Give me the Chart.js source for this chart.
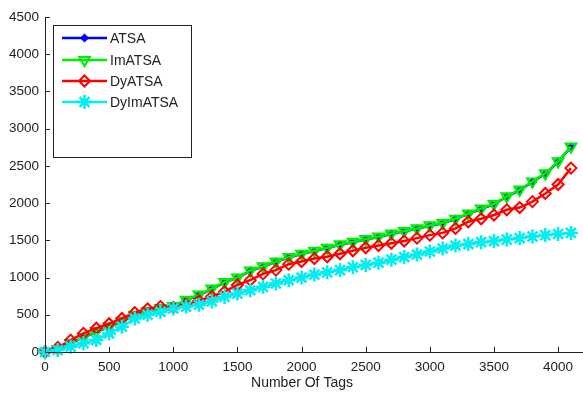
<!DOCTYPE html>
<html>
<head>
<meta charset="utf-8">
<script src="https://cdn.jsdelivr.net/npm/chart.js@4/dist/chart.umd.min.js"></script>
<style>
html,body{margin:0;padding:0;background:#fff;}
#c{display:block;}
</style>
</head>
<body>
<canvas id="c" width="583" height="395"></canvas>
<script>
// ---- data ----
const tags = [0,100,200,300,400,500,600,700,800,900,1000,1100,1200,1300,1400,1500,1600,1700,1800,1900,2000,2100,2200,2300,2400,2500,2600,2700,2800,2900,3000,3100,3200,3300,3400,3500,3600,3700,3800,3900,4000,4100];
const seriesNames = ["ATSA","ImATSA","DyATSA","DyImATSA"];
const atsa = [0,35,115,195,270,335,410,490,545,585,610,695,765,845,935,995,1090,1145,1210,1270,1315,1355,1395,1440,1475,1510,1545,1585,1620,1655,1695,1730,1785,1855,1920,1985,2085,2175,2285,2395,2555,2755];
const imatsa = [0,40,120,200,280,340,420,500,550,590,615,700,770,850,940,1000,1095,1150,1215,1275,1320,1360,1400,1445,1480,1515,1550,1590,1625,1660,1700,1735,1790,1860,1925,1990,2090,2180,2290,2400,2560,2760];
const dyatsa = [0,60,160,250,320,380,450,530,580,610,600,640,690,745,810,900,965,1050,1100,1180,1215,1255,1280,1320,1360,1400,1430,1460,1490,1530,1570,1600,1660,1750,1790,1840,1910,1940,2020,2130,2250,2470];
const dyimatsa = [0,27,72,117,161,250,340,450,500,540,585,610,635,680,740,785,830,875,920,965,1000,1040,1070,1100,1140,1170,1200,1240,1275,1310,1350,1390,1430,1450,1475,1490,1510,1530,1550,1570,1585,1600];
const xTicks = [0,500,1000,1500,2000,2500,3000,3500,4000];
const yTicks = [0,500,1000,1500,2000,2500,3000,3500,4000,4500];
const xTitle = "Number Of Tags";

const FONT = "'Liberation Sans', Arial, sans-serif";
const TXT = "#222222";

function pts(arr){ return tags.map((t,i)=>({x:t,y:arr[i]})); }

const styles = [
  {color:'#0000ff', pointStyle:'rectRot', radius:3.5, bg:'#0000ff', bw:1.5, rot:0, order:4},
  {color:'#00ee00', pointStyle:'triangle', radius:6, bg:'rgba(0,0,0,0)', bw:2.2, rot:180, order:3},
  {color:'#ff0000', pointStyle:'rectRot', radius:5.5, bg:'rgba(0,0,0,0)', bw:2, rot:0, order:2},
  {color:'#00eeee', pointStyle:'star', radius:7, bg:'#00eeee', bw:2.5, rot:0, order:1}
];
const values = [atsa, imatsa, dyatsa, dyimatsa];

const datasets = values.map((v,i)=>({
  label: seriesNames[i],
  data: pts(v),
  borderColor: styles[i].color,
  backgroundColor: styles[i].bg,
  borderWidth: 2.5,
  pointStyle: styles[i].pointStyle,
  pointRadius: styles[i].radius,
  pointBorderWidth: styles[i].bw,
  pointBorderColor: styles[i].color,
  pointBackgroundColor: styles[i].bg,
  pointRotation: styles[i].rot,
  tension: 0,
  order: styles[i].order,
  clip: false
}));

const axesPlugin = {
  id:'axesPlugin',
  afterDatasetsDraw(chart){
    const ctx = chart.ctx, a = chart.chartArea;
    const xs = chart.scales.x, ys = chart.scales.y;
    ctx.save();
    ctx.strokeStyle = '#222';
    ctx.lineWidth = 1;
    ctx.beginPath();
    ctx.moveTo(a.left+0.5, ys.getPixelForValue(4500));
    ctx.lineTo(a.left+0.5, a.bottom+0.5);
    ctx.lineTo(chart.width, a.bottom+0.5);
    ctx.stroke();
    ctx.beginPath();
    yTicks.forEach(v=>{
      const y = Math.round(ys.getPixelForValue(v))+0.5;
      ctx.moveTo(a.left, y); ctx.lineTo(a.left+5, y);
    });
    xTicks.forEach(v=>{
      const x = Math.round(xs.getPixelForValue(v))+0.5;
      ctx.moveTo(x, a.bottom); ctx.lineTo(x, a.bottom-5);
    });
    ctx.stroke();
    // x title
    ctx.fillStyle = TXT;
    ctx.font = "14px " + FONT;
    ctx.textAlign = 'center';
    ctx.textBaseline = 'middle';
    ctx.fillText(xTitle, 302, 383);
    ctx.restore();
  },
  afterDraw(chart){
    // legend box
    const ctx = chart.ctx;
    ctx.save();
    ctx.fillStyle = '#fff';
    ctx.fillRect(53.5, 25.5, 138, 132);
    ctx.strokeStyle = '#222';
    ctx.lineWidth = 1;
    ctx.strokeRect(53.5, 25.5, 138, 132);
    const rowsY = [38, 60, 81, 102];
    chart.data.datasets.forEach((ds,i)=>{
      const y = rowsY[i];
      ctx.strokeStyle = ds.borderColor;
      ctx.lineWidth = 2.5;
      ctx.beginPath();
      ctx.moveTo(62, y); ctx.lineTo(107, y);
      ctx.stroke();
      const opts = {pointStyle: ds.pointStyle, radius: ds.pointRadius, rotation: ds.pointRotation, borderWidth: ds.pointBorderWidth};
      ctx.fillStyle = ds.pointBackgroundColor;
      ctx.strokeStyle = ds.pointBorderColor;
      ctx.lineWidth = ds.pointBorderWidth;
      if (Chart.helpers && Chart.helpers.drawPoint) {
        Chart.helpers.drawPoint(ctx, opts, 84.5, y);
      }
      ctx.fillStyle = TXT;
      ctx.font = "14px " + FONT;
      ctx.textAlign = 'left';
      ctx.textBaseline = 'middle';
      ctx.fillText(ds.label, 110, y+1);
    });
    ctx.restore();
  }
};

new Chart(document.getElementById('c'), {
  type: 'line',
  data: { datasets },
  options: {
    responsive: false,
    animation: false,
    layout: { padding: { top: 17, right: 0, left: 0, bottom: 0 } },
    plugins: { legend: { display: false }, tooltip: { enabled: false } },
    scales: {
      x: {
        type: 'linear',
        min: 0, max: 4120,
        grid: { display: false, drawTicks: false },
        border: { display: false },
        ticks: { stepSize: 500, color: TXT, font: { family: FONT, size: 13.5 }, padding: 7, maxRotation: 0, autoSkip: false, callback: v => String(v) },
        afterBuildTicks(s){ s.ticks = xTicks.map(v=>({value:v})); },
        afterFit(s){ s.height = 43; }
      },
      y: {
        type: 'linear',
        min: 0, max: 4500,
        grid: { display: false, drawTicks: false },
        border: { display: false },
        ticks: { stepSize: 500, color: TXT, font: { family: FONT, size: 13.5 }, padding: 6, callback: v => String(v) },
        afterBuildTicks(s){ s.ticks = yTicks.map(v=>({value:v})); },
        afterFit(s){ s.width = 45; }
      }
    }
  },
  plugins: [axesPlugin]
});
</script>
</body>
</html>
